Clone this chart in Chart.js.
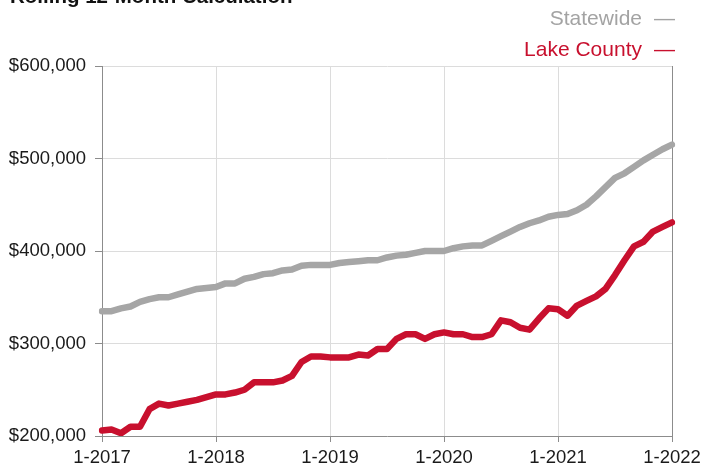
<!DOCTYPE html>
<html>
<head>
<meta charset="utf-8">
<script src="https://cdn.jsdelivr.net/npm/chart.js@4/dist/chart.umd.min.js"></script>
<style>
  html, body { margin: 0; padding: 0; background: #fff; overflow: hidden; }
  #wrap { position: relative; width: 702px; height: 466px; overflow: hidden; font-family: "Liberation Sans", Arial, Helvetica, sans-serif; }
  #c { position: absolute; left: 0; top: 0; }
  #title { position: absolute; left: 10px; top: -14px; font-size: 20.5px; line-height: 20px; font-weight: bold; color: #111; white-space: nowrap; }
  .leg { position: absolute; right: 27px; font-size: 21px; line-height: 21px; white-space: nowrap; text-align: right; }
  .leg span { margin-left: 12px; }
</style>
</head>
<body>
<div id="wrap">
  <canvas id="c" width="702" height="466"></canvas>
  <div id="title">Rolling 12-Month Calculation</div>
  <div class="leg" id="leg1" style="top:7px;color:#a3a3a3;">Statewide<span>—</span></div>
  <div class="leg" id="leg2" style="top:38px;color:#c8102e;">Lake County<span>—</span></div>
</div>
<script>
const months = [];
for (let y = 2017; y <= 2022; y++) {
  for (let m = 1; m <= 12; m++) {
    if (y === 2022 && m > 1) break;
    months.push(m + '-' + y);
  }
}
const seriesNames = ['Statewide', 'Lake County'];
const statewide = [
  335000,335000,338000,340000,345000,348000,350000,350000,353000,356000,359000,360000,
  361000,365000,365000,370000,372000,375000,376000,379000,380000,384000,385000,385000,
  385000,387000,388000,389000,390000,390000,393000,395000,396000,398000,400000,400000,
  400000,403000,405000,406000,406000,411000,416000,421000,426000,430000,433000,437000,
  439000,440000,444000,450000,459000,469000,479000,484000,491000,498000,504000,510000,
  515000
];
const lakeCounty = [
  206000,207000,203000,210000,210000,229000,235000,233000,235000,237000,239000,242000,
  245000,245000,247000,250000,258000,258000,258000,260000,265000,280000,286000,286000,
  285000,285000,285000,288000,287000,294000,294000,305000,310000,310000,305000,310000,
  312000,310000,310000,307000,307000,310000,325000,323000,317000,315000,327000,338000,
  337000,330000,341000,346000,351000,359000,374000,390000,405000,410000,421000,426000,
  431000
];
const yTicks = [200000, 300000, 400000, 500000, 600000];

const FONT = "'Liberation Sans', Arial, Helvetica, sans-serif";
const GRID = '#dcdcdc';
const AXIS = '#8c8c8c';

new Chart(document.getElementById('c'), {
  type: 'line',
  data: {
    labels: months,
    datasets: [
      { label: seriesNames[0], data: statewide, borderColor: '#a6a6a6', backgroundColor: '#a6a6a6', borderWidth: 6.5, pointRadius: 0, tension: 0, borderJoinStyle: 'round', borderCapStyle: 'round' },
      { label: seriesNames[1], data: lakeCounty, borderColor: '#c8102e', backgroundColor: '#c8102e', borderWidth: 6.5, pointRadius: 0, tension: 0, borderJoinStyle: 'round', borderCapStyle: 'round' }
    ]
  },
  options: {
    responsive: false,
    animation: false,
    layout: { padding: { top: 66, right: 30, bottom: 0, left: 0 } },
    plugins: { legend: { display: false }, tooltip: { enabled: false }, title: { display: false } },
    scales: {
      x: {
        type: 'category',
        offset: false,
        grid: { color: GRID, tickColor: AXIS, tickLength: 6, drawOnChartArea: true },
        border: { display: true, color: AXIS, width: 1 },
        ticks: {
          autoSkip: false, maxRotation: 0, minRotation: 0, padding: 5,
          color: '#1a1a1a', font: { family: FONT, size: 18.5 },
          callback: function (v, i) { return i % 12 === 0 ? this.getLabelForValue(v) : null; }
        },
        afterFit: s => { s.height = 30; s.paddingLeft = 0; s.paddingRight = 0; }
      },
      y: {
        min: 200000, max: 600000,
        afterBuildTicks: s => { s.ticks = yTicks.map(v => ({ value: v })); },
        grid: { color: GRID, tickColor: AXIS, tickLength: 7 },
        border: { display: true, color: AXIS, width: 1 },
        ticks: {
          padding: 9, color: '#1a1a1a', font: { family: FONT, size: 18.5 },
          callback: v => '$' + Number(v).toLocaleString('en-US')
        },
        afterFit: s => { s.width = 102; s.paddingTop = 0; s.paddingBottom = 0; }
      },
      yr: {
        position: 'right',
        min: 200000, max: 600000,
        grid: { drawOnChartArea: false, drawTicks: false },
        border: { display: true, color: AXIS, width: 1 },
        ticks: { display: false },
        afterFit: s => { s.width = 0; s.paddingTop = 0; s.paddingBottom = 0; }
      }
    }
  }
});
</script>
</body>
</html>
